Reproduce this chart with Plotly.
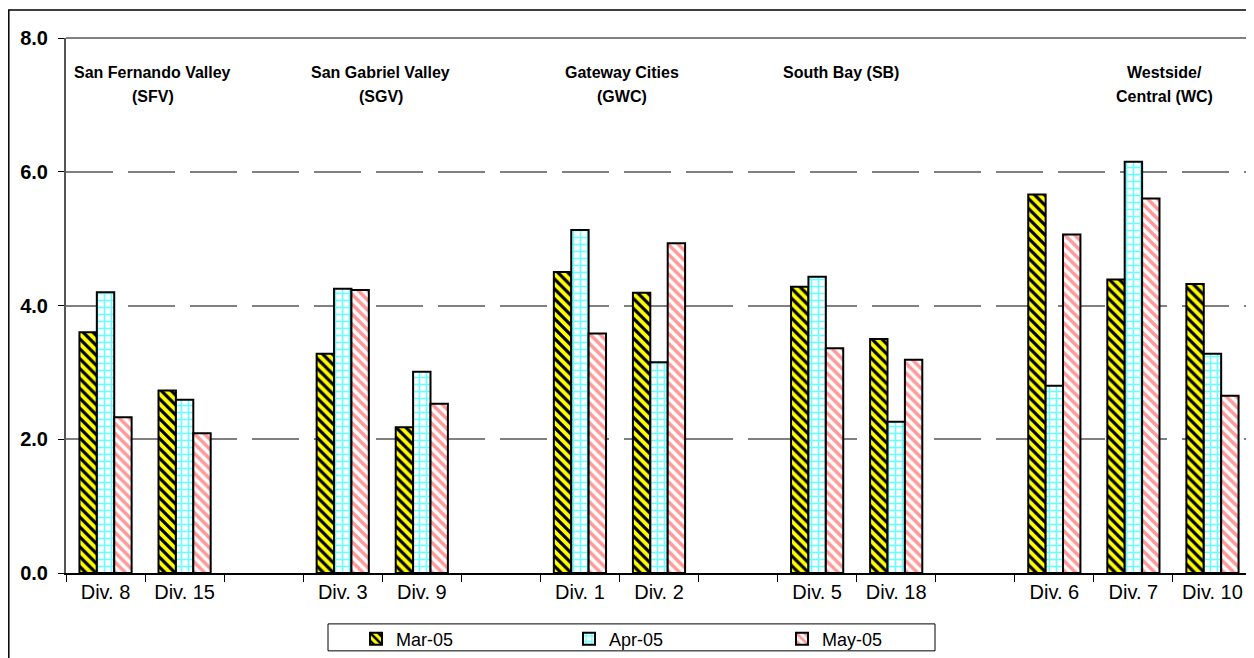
import plotly.graph_objects as go

# category slots (blank slots separate the regions)
divisions = ["Div. 8", "Div. 15", " ", "Div. 3", "Div. 9", "  ", "Div. 1", "Div. 2", "   ",
             "Div. 5", "Div. 18", "    ", "Div. 6", "Div. 7", "Div. 10"]
mar_05 = [3.60, 2.73, None, 3.28, 2.18, None, 4.50, 4.19, None, 4.28, 3.50, None, 5.66, 4.39, 4.32]
apr_05 = [4.20, 2.59, None, 4.25, 3.01, None, 5.13, 3.15, None, 4.43, 2.26, None, 2.80, 6.15, 3.28]
may_05 = [2.33, 2.09, None, 4.23, 2.53, None, 3.58, 4.93, None, 3.36, 3.19, None, 5.06, 5.60, 2.65]

regions = [["San Fernando Valley", "(SFV)"], ["San Gabriel Valley", "(SGV)"],
           ["Gateway Cities", "(GWC)"], ["South Bay (SB)"], ["Westside/", "Central (WC)"]]
region_pos = [0.6, 3.48, 6.53, 9.3, 13.39]

FONT = "Arial, Liberation Sans, sans-serif"

series = [
    ("Mar-05", mar_05, dict(shape="\\", bgcolor="#FFFF00", fgcolor="#000000", size=7, solidity=0.45)),
    ("Apr-05", apr_05, dict(shape="+", bgcolor="#FFFFFF", fgcolor="#66FFFF", size=7, solidity=0.4)),
    ("May-05", may_05, dict(shape="\\", bgcolor="#FFFFFF", fgcolor="#FF9999", size=7, solidity=0.5)),
]

fig = go.Figure()
for name, vals, pat in series:
    fig.add_trace(go.Bar(
        x=divisions, y=vals, name=name,
        marker=dict(color=pat["bgcolor"], pattern=dict(fillmode="replace", **pat),
                    line=dict(color="#000000", width=2)),
    ))

for pos, lines in zip(region_pos, regions):
    for i, txt in enumerate(lines):
        fig.add_annotation(x=pos, y=7.48 - i * 0.35, xref="x", yref="y", text=txt, showarrow=False,
                           font=dict(family=FONT, size=16, color="#000000", weight="bold"), yanchor="middle")

# the page adds an 8px body margin, so the figure is laid out 8px smaller
W, H, L, T = 1246, 650, 58, 30
PW, PH = W - L - 2, 536

def px(xp):
    return (xp - 8 - L) / PW

def py(yp):
    return (T + PH - (yp - 8)) / PH

# outer chart frame and grey plot-area border (top/right)
fig.add_shape(type="rect", xref="paper", yref="paper", x0=px(8.8), x1=1.02, y0=-0.2, y1=py(10),
              line=dict(color="#000000", width=1.5), layer="below")
fig.add_shape(type="line", xref="paper", yref="paper", x0=0, x1=1, y0=1, y1=1,
              line=dict(color="#808080", width=2))
fig.add_shape(type="line", xref="paper", yref="paper", x0=1, x1=1, y0=0, y1=1,
              line=dict(color="#808080", width=2))
# legend frame
fig.add_shape(type="rect", xref="paper", yref="paper", x0=px(328), x1=px(935),
              y0=py(652), y1=py(625), line=dict(color="#000000", width=1))

fig.update_layout(
    width=W, height=H,
    margin=dict(l=L, r=2, t=T, b=H - T - PH),
    paper_bgcolor="#FFFFFF", plot_bgcolor="#FFFFFF",
    barmode="group", bargap=0.34, bargroupgap=0,
    font=dict(family=FONT, color="#000000"),
    showlegend=True,
    legend=dict(orientation="h", x=px(356), xanchor="left", y=py(639), yanchor="middle",
                font=dict(family=FONT, size=18), entrywidth=168, entrywidthmode="pixels",
                bgcolor="rgba(0,0,0,0)", borderwidth=0, itemclick=False),
    xaxis=dict(type="category", tickson="boundaries", ticks="outside", ticklen=7, tickcolor="#000000",
               showline=True, linecolor="#000000", linewidth=1.5, showgrid=False,
               tickfont=dict(family=FONT, size=20), range=[-0.5, 14.5], fixedrange=True),
    yaxis=dict(range=[0, 8], dtick=2, tickformat=".1f", ticks="outside", ticklen=6, tickcolor="#000000",
               showline=True, linecolor="#555555", linewidth=2, zeroline=False,
               showgrid=True, gridcolor="#808080", gridwidth=1.5, griddash="47px,15px",
               tickfont=dict(family=FONT, size=20, weight="bold"), ticklabelstandoff=6),
)

fig.write_html("out.html")
